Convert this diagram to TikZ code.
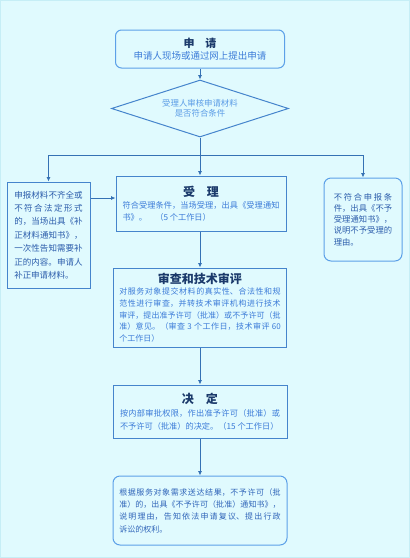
\documentclass[tikz,border=0pt]{standalone}
\usepackage{fontspec}
\newfontfamily\cjk{Noto Sans CJK SC}
\usetikzlibrary{positioning, arrows.meta, shapes.geometric}
\XeTeXlinebreaklocale "zh"
\XeTeXlinebreakskip = 0pt plus 1pt
\tolerance=9999
\hbadness=10000

\definecolor{bgcyan}{HTML}{E0FAFE}
\definecolor{frameline}{HTML}{C6EEF6}
\definecolor{edgeblue}{HTML}{4584CC}
\definecolor{softedge}{HTML}{5CA0E8}
\definecolor{linkblue}{HTML}{3571B4}
\definecolor{titlenavy}{HTML}{1B3A6B}
\definecolor{bodyblue}{HTML}{3B7BD8}
\definecolor{sideblue}{HTML}{2B5CAB}
\definecolor{paleblue}{HTML}{5B9CE6}

\newcommand\boxtitle[1]{{\centering\fontsize{12}{14}\selectfont\bfseries\color{titlenavy}#1\par}}
\newcommand\cjkbody[2]{\cjk\fontsize{#1}{#2}\selectfont\parindent=0pt}

\tikzset{
  flowbox/.style={draw=edgeblue, line width=1pt, fill=bgcyan, inner sep=0pt, align=justify, text=bodyblue},
  softbox/.style={flowbox, draw=softedge, rounded corners=7pt},
  link/.style={draw=linkblue, line width=0.8pt},
  arr/.style={link, -{Latex[length=4.5pt, width=4pt]}}
}

\begin{document}
\begin{tikzpicture}[x=1pt, y=-1pt]
% background
\fill[bgcyan] (0,0) rectangle (410,558);
\draw[frameline, line width=1pt] (0.5,0.5) rectangle (409.5,557.5);
\useasboundingbox (0,0) rectangle (410,558);

% main column
\node[softbox, minimum width=169pt, minimum height=38pt, rounded corners=6pt, align=center,
  font=\cjkbody{9.5}{12.6}] (shenqing) at (200,49)
  {{\fontsize{11}{12.6}\selectfont\bfseries\color{titlenavy}申\quad 请}\\
   {\color{bodyblue}申请人现场或通过网上提出申请}};

\node[draw=edgeblue, line width=1pt, fill=bgcyan, shape=diamond, aspect=3.1, inner sep=0pt,
  minimum width=177pt, minimum height=57pt, align=center, text=paleblue,
  font=\cjkbody{8.4}{10}] (shenhe) at (200,108.5)
  {受理人审核申请材料\\是否符合条件};

\node[flowbox, minimum width=170pt, minimum height=55pt, text width=157pt,
  font=\cjkbody{8.2}{11.6}] (shouli) at (201,203.5)
  {\boxtitle{受\quad 理}\vspace{1pt}%
   符合受理条件，当场受理，出具《受理通知\linebreak 书》。\quad （5 个工作日）};

\node[flowbox, minimum width=173pt, minimum height=79pt, text width=161.5pt,
  font=\cjkbody{8}{11.6}] (shencha) at (200,307.5)
  {\boxtitle{审查和技术审评}%
   对服务对象提交材料的真实性、合法性和规\linebreak 范性进行审查，并转技术审评机构进行技术\linebreak
   审评，提出准予许可（批准）或不予许可（批\linebreak 准）意见。（审查 3 个工作日，技术审评 60\linebreak 个工作日）};

\node[flowbox, minimum width=174pt, minimum height=53pt, text width=160pt,
  font=\cjkbody{8.2}{13.3}] (jueding) at (200,411.5)
  {\boxtitle{决\quad 定}%
   按内部审批权限，作出准予许可（批准）或\linebreak 不予许可（批准）的决定。（15 个工作日）};

\node[softbox, minimum width=174pt, minimum height=69pt, text width=161.5pt, text=sideblue!70!bodyblue,
  font=\cjkbody{8}{12.3}] (songda) at (200,510.5)
  {根据服务对象需求送达结果，不予许可（批\linebreak 准）的，出具《不予许可（批准）通知书》，\linebreak
   说明理由，告知依法申请复议、提出行政\linebreak 诉讼的权利。};

% side boxes
\node[flowbox, minimum width=83pt, minimum height=106pt, text width=68.5pt, text=sideblue,
  font=\cjkbody{8.5}{13.4}] (buzheng) at (48.5,235)
  {申报材料不齐全或\linebreak 不符合法定形式\linebreak 的，当场出具《补\linebreak 正材料通知书》，\linebreak
   一次性告知需要补\linebreak 正的内容。申请人\linebreak 补正申请材料。};

\node[softbox, minimum width=78pt, minimum height=83pt, text width=58.5pt, text=sideblue,
  font=\cjkbody{8.3}{11.2}] (buyu) at (363,219.5)
  {不符合申报条\linebreak 件，出具《不予\linebreak 受理通知书》，\linebreak 说明不予受理的\linebreak 理由。};

% connectors
\coordinate (fork) at (200,155);
\draw[arr] (shenqing) -- (shenhe);
\draw[arr] (shenhe.south) -- (shenhe.south |- shouli.north);
\draw[arr] (fork) -| (buzheng.north);
\draw[arr] (fork) -| (buyu.north);
\draw[arr] ([yshift=5.5pt]shouli.west -| buzheng.east) -- ([yshift=5.5pt]shouli.west);
\draw[arr] (shouli.south -| shencha.north) -- (shencha.north);
\draw[arr] (shencha) -- (jueding);
\draw[arr] (jueding) -- (songda);
\end{tikzpicture}
\end{document}
